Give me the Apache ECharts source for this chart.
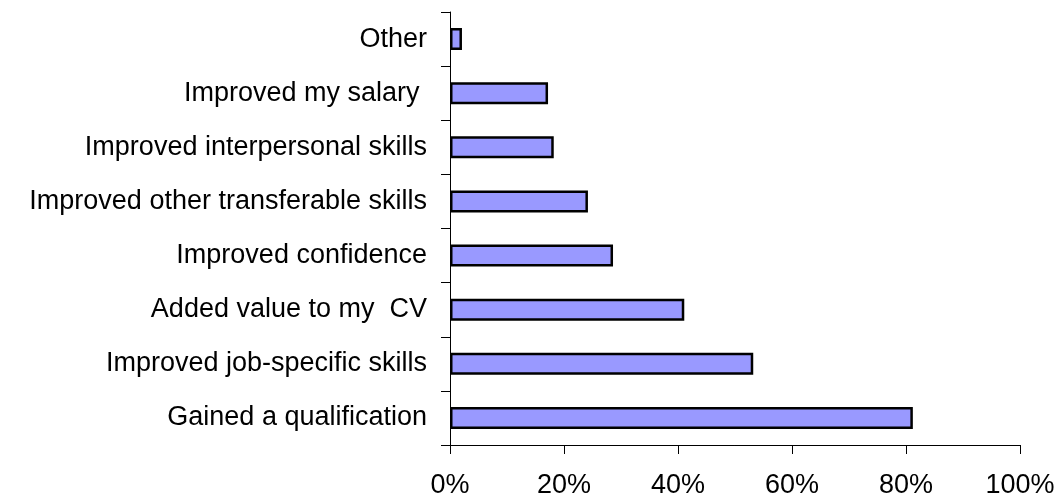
<!DOCTYPE html>
<html>
<head>
<meta charset="utf-8">
<script src="https://cdn.jsdelivr.net/npm/echarts@6/dist/echarts.min.js"></script>
<style>
  html, body { margin: 0; padding: 0; background: #fff; }
  #chart { width: 1061px; height: 499px; }
</style>
</head>
<body>
<div id="chart"></div>
<script>
// categories, bottom to top
var categories = [
  'Gained a qualification',
  'Improved job-specific skills',
  'Added value to my  CV',
  'Improved confidence',
  'Improved other transferable skills',
  'Improved interpersonal skills',
  'Improved my salary ',
  'Other'
];
// percent of respondents
var values = [81.2, 53.2, 41.1, 28.6, 24.2, 18.2, 17.2, 2.1];
var xTicks = [0, 20, 40, 60, 80, 100];

var chart = echarts.init(document.getElementById('chart'));

var option = {
  animation: false,
  grid: { left: 450, right: 41, top: 12, bottom: 53, containLabel: false },
  xAxis: {
    type: 'value',
    min: xTicks[0],
    max: xTicks[xTicks.length - 1],
    interval: xTicks[1] - xTicks[0],
    axisLine: { show: true, lineStyle: { color: '#000', width: 1 } },
    axisTick: { show: true, length: 9, lineStyle: { color: '#000' } },
    splitLine: { show: false },
    axisLabel: {
      formatter: '{value}%',
      color: '#000',
      fontFamily: 'Liberation Sans, Arial, sans-serif',
      fontSize: 27,
      margin: 27
    }
  },
  yAxis: {
    type: 'category',
    data: categories,
    axisLine: { show: true, lineStyle: { color: '#000', width: 1 } },
    axisTick: { show: true, length: 9, lineStyle: { color: '#000' } },
    axisLabel: {
      color: '#000',
      fontFamily: 'Liberation Sans, Arial, sans-serif',
      fontSize: 27,
      margin: 23
    }
  },
  series: [{
    type: 'bar',
    data: values,
    barWidth: 22,
    itemStyle: {
      color: '#9999FF',
      borderColor: '#000',
      borderWidth: 2.5
    }
  }]
};

chart.setOption(option);
</script>
</body>
</html>
